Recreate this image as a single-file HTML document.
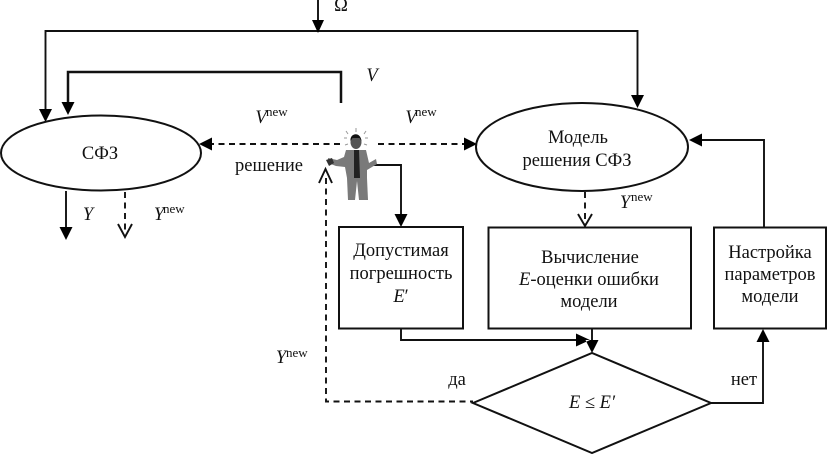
<!DOCTYPE html>
<html><head><meta charset="utf-8"><style>
html,body{margin:0;padding:0;background:#fff;width:827px;height:454px;overflow:hidden}
svg{display:block}
text{font-family:"Liberation Serif",serif;font-size:18.500px;fill:#111;text-anchor:middle}
.i{font-style:italic}
.s{font-size:13px;text-anchor:start}
.l{fill:none;stroke:#111;stroke-width:1.900}
.d{fill:none;stroke:#111;stroke-width:1.900;stroke-dasharray:6 4.500}
.b{fill:#fff;stroke:#111;stroke-width:2}
.h{fill:#000}
</style></head><body>
<svg width="827" height="454" viewBox="0 0 827 454" xmlns="http://www.w3.org/2000/svg">
<!-- connectors -->
<path class="l" d="M318 0V22M45.500 110V31H637.500V96"/>
<path class="l" style="stroke-width:2.500" d="M68 104V72H341V103"/>
<path class="d" d="M340 144H212M378 144H466M125 192V232M585 192V224M326 178V401.500H473"/>
<path class="l" d="M66 191V230M362 165H401V216M764 227V140H701M401 329V340H578M592 329V342M711 403H763V340"/>
<!-- arrowheads -->
<path class="h" d="M312 20H324L318 33ZM39 109H52L45.500 122ZM61.500 102H74.500L68 115ZM631 95H644L637.500 108ZM212 137.500V150.500L199 144ZM464 137.500V150.500L477 144ZM59.500 227H72.500L66 240ZM394.500 214H407.500L401 227ZM702 133.500V146.500L689 140ZM576 333.500V346.500L590 340ZM585.500 340H598.500L592 353ZM756.500 342H769.500L763 329Z"/>
<path class="l" d="M118 224L125 237L132 224M578 214L585 226L592 214M319 183L325.500 169L332 183"/>
<!-- nodes -->
<ellipse class="b" cx="101" cy="153" rx="100" ry="37.500"/>
<ellipse class="b" cx="582" cy="147" rx="106" ry="44"/>
<rect class="b" x="339" y="227" width="124" height="101.500"/>
<rect class="b" x="488.500" y="227.500" width="202.500" height="101"/>
<rect class="b" x="714" y="227.500" width="112" height="101"/>
<polygon class="b" points="473,403 592,353 711,403 592,453"/>
<!-- man -->
<g>
<path d="M356 128v4M346 131l2 3M366 131l-2 3M344 138h3M365 138h3M345 145l3-1M367 145l-3-1" stroke="#999" stroke-width="1" fill="none"/>
<path fill="#7a7a7a" d="M346 150L366 150L369 163L376 159L377 164L367 170L367 178L368 200L359 200L357 181L355 200L348 200L347 178L345 167L336 166L328 163L328 158L337 160L344 157Z"/>
<path fill="#222" d="M354 150h5l1 28h-6Z"/>
<ellipse cx="356" cy="142" rx="5.500" ry="7" fill="#555"/>
<path fill="#111" d="M350.500 141c-1-8 10-10 11 0l-2-3h-7Z"/>
<path fill="#333" d="M326 160l6-2 2 5-5 3Z"/>
</g>
<!-- labels -->
<text x="100" y="159">СФЗ</text>
<text x="578" y="143">Модель</text>
<text x="577" y="166">решения СФЗ</text>
<text x="401" y="256">Допустимая</text>
<text x="401" y="279">погрешность</text>
<text x="401" y="302"><tspan class="i">E</tspan>′</text>
<text x="590" y="263">Вычисление</text>
<text x="589" y="285"><tspan class="i">E</tspan>-оценки ошибки</text>
<text x="589" y="307">модели</text>
<text x="770" y="258">Настройка</text>
<text x="770" y="280">параметров</text>
<text x="770" y="302">модели</text>
<text x="592" y="408" class="i">E ≤ E′</text>
<text x="457" y="385">да</text>
<text x="744" y="385">нет</text>
<text x="269" y="171">решение</text>
<text x="341" y="11">Ω</text>
<text x="372" y="81" class="i">V</text>
<text x="88" y="220" class="i">Y</text>
<text x="261" y="123" class="i">V</text><text x="266" y="116" class="s">new</text>
<text x="411" y="123" class="i">V</text><text x="415" y="116" class="s">new</text>
<text x="159" y="220" class="i">Y</text><text x="163" y="213" class="s">new</text>
<text x="625" y="208" class="i">Y</text><text x="631" y="201" class="s">new</text>
<text x="281" y="363" class="i">Y</text><text x="286" y="357" class="s">new</text>
</svg>
</body></html>
